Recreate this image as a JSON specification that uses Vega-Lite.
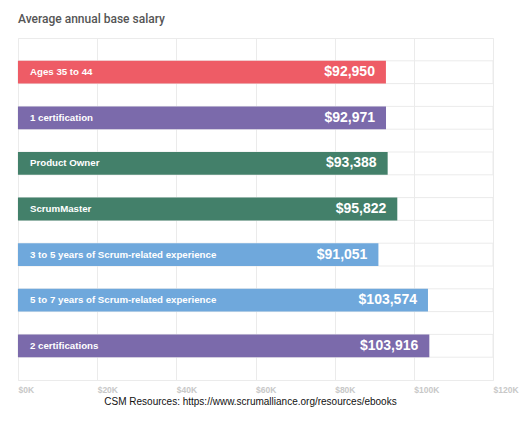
{
  "$schema": "https://vega.github.io/schema/vega-lite/v6.json",
  "width": 475,
  "height": 342,
  "autosize": "none",
  "padding": {"left": 18, "top": 38, "right": 32, "bottom": 63},
  "background": "white",
  "title": {
    "text": "Average annual base salary",
    "anchor": "start",
    "frame": "group",
    "font": "Roboto",
    "fontSize": 12,
    "fontWeight": 500,
    "color": "#555555",
    "baseline": "alphabetic",
    "offset": 3
  },
  "config": {
    "view": {"stroke": "#ebebeb", "strokeWidth": 1},
    "font": "Liberation Sans"
  },
  "data": {
    "values": [
      {"label": "Ages 35 to 44", "group": "Age", "salary": 92950},
      {"label": "1 certification", "group": "Certification", "salary": 92971},
      {"label": "Product Owner", "group": "Role", "salary": 93388},
      {"label": "ScrumMaster", "group": "Role", "salary": 95822},
      {"label": "3 to 5 years of Scrum-related experience", "group": "Experience", "salary": 91051},
      {"label": "5 to 7 years of Scrum-related experience", "group": "Experience", "salary": 103574},
      {"label": "2 certifications", "group": "Certification", "salary": 103916}
    ]
  },
  "encoding": {
    "y": {
      "field": "label",
      "type": "nominal",
      "sort": null,
      "axis": null,
      "scale": {"paddingInner": 0.5, "paddingOuter": 0.5}
    }
  },
  "layer": [
    {
      "mark": {"type": "bar", "filled": false, "stroke": "#ebebeb", "strokeWidth": 1},
      "encoding": {
        "x": {
          "datum": 0,
          "type": "quantitative",
          "scale": {"domain": [0, 120000]},
          "axis": {
            "values": [0, 20000, 40000, 60000, 80000, 100000, 120000],
            "labelExpr": "'$' + (datum.value / 1000) + 'K'",
            "labelAlign": "left",
            "labelFlush": true,
            "labelFontSize": 8.5,
            "labelFontWeight": "bold",
            "labelColor": "#c8c8c8",
            "labelPadding": 5,
            "ticks": false,
            "domain": false,
            "grid": true,
            "gridColor": "#ebebeb",
            "title": "CSM Resources: https://www.scrumalliance.org/resources/ebooks",
            "titleFont": "Liberation Sans",
            "titleFontSize": 10,
            "titleFontWeight": "normal",
            "titleColor": "#111111",
            "titleBaseline": "top",
            "titleAlign": "center",
            "titleX": 232,
            "titleY": 16
          }
        },
        "x2": {"datum": 120000}
      }
    },
    {
      "mark": {"type": "bar"},
      "encoding": {
        "x": {"field": "salary", "type": "quantitative"},
        "color": {
          "field": "group",
          "type": "nominal",
          "scale": {
            "domain": ["Age", "Certification", "Role", "Experience"],
            "range": ["#ee5c66", "#7b6aab", "#43806a", "#6fa8dc"]
          },
          "legend": null
        }
      }
    },
    {
      "mark": {"type": "text", "align": "left", "dx": 12, "color": "white", "fontWeight": "bold", "fontSize": 9.7, "font": "Liberation Sans"},
      "encoding": {
        "x": {"datum": 0, "type": "quantitative"},
        "text": {"field": "label"}
      }
    },
    {
      "mark": {"type": "text", "align": "right", "dx": -11, "color": "white", "fontWeight": "bold", "fontSize": 14, "font": "Liberation Sans"},
      "encoding": {
        "x": {"field": "salary", "type": "quantitative"},
        "text": {"field": "salary", "type": "quantitative", "format": "$,.0f"}
      }
    }
  ]
}
